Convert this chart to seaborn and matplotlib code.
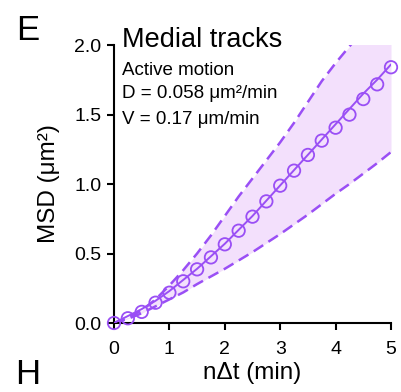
import numpy as np
import pandas as pd
import matplotlib
matplotlib.use("Agg")
import matplotlib.pyplot as plt
import seaborn as sns

# ---- data ----
t = [0, 0.25, 0.5, 0.75, 1.0, 1.25, 1.5, 1.75, 2.0, 2.25, 2.5, 2.75,
     3.0, 3.25, 3.5, 3.75, 4.0, 4.25, 4.5, 4.75, 5.0]
msd = [0, 0.034, 0.08, 0.146, 0.218, 0.30, 0.386, 0.472, 0.566, 0.664, 0.765,
       0.875, 0.988, 1.096, 1.209, 1.312, 1.405, 1.499, 1.611, 1.717, 1.84]
fit = [0, 0.05, 0.10, 0.16, 0.23, 0.31, 0.39, 0.48, 0.57, 0.67, 0.77, 0.88,
       0.99, 1.10, 1.21, 1.32, 1.43, 1.54, 1.65, 1.75, 1.86]
upper = [0, 0.04, 0.09, 0.17, 0.27, 0.38, 0.50, 0.63, 0.77, 0.91, 1.04, 1.17,
         1.30, 1.44, 1.59, 1.74, 1.87, 1.99, 2.11, 2.23, 2.35]
lower = [0, 0.03, 0.07, 0.12, 0.17, 0.22, 0.28, 0.335, 0.39, 0.45, 0.51, 0.575,
         0.64, 0.71, 0.78, 0.855, 0.93, 1.00, 1.075, 1.15, 1.23]
xticks = [0, 1, 2, 3, 4, 5]
yticks = [0.0, 0.5, 1.0, 1.5, 2.0]

df = pd.DataFrame({"t": t, "msd": msd, "fit": fit, "upper": upper, "lower": lower})

sns.set_style("ticks")
plt.rcParams['font.family'] = ['Liberation Sans', 'DejaVu Sans']
plt.rcParams['text.color'] = 'black'
plt.rcParams['axes.labelcolor'] = 'black'

PURPLE = "#9a4ff5"
FILL = "#f3e0fc"

fig = plt.figure(figsize=(4.01, 3.92), dpi=100)
ax = fig.add_axes([114/401, 1-323/392, (391-114)/401, (323-45)/392])

ax.fill_between(df["t"], df["lower"], df["upper"], color=FILL, lw=0, zorder=1)
sns.lineplot(data=df, x="t", y="upper", ax=ax, color=PURPLE, lw=1.8, zorder=2)
ax.lines[-1].set_dashes([4.5, 2.5])
sns.lineplot(data=df, x="t", y="lower", ax=ax, color=PURPLE, lw=1.8, zorder=2)
ax.lines[-1].set_dashes([4.5, 2.5])
sns.lineplot(data=df, x="t", y="fit", ax=ax, color=PURPLE, lw=1.4, zorder=3)
sns.scatterplot(data=df, x="t", y="msd", ax=ax, s=80, facecolor="none",
                edgecolor=PURPLE, linewidth=1.3, zorder=4, clip_on=False)

ax.set_xlim(0, 5)
ax.set_ylim(0, 2.0)
ax.set_xticks(xticks)
ax.set_xticklabels([str(v) for v in xticks])
ax.set_yticks(yticks)
ax.set_yticklabels([f"{v:.1f}" for v in yticks])
for s in ["top", "right"]:
    ax.spines[s].set_visible(False)
for s in ["left", "bottom"]:
    ax.spines[s].set_linewidth(1.5)
    ax.spines[s].set_color("black")
ax.tick_params(direction="out", length=5, width=1.5, labelsize=14,
               colors="black", labelcolor="black")
ax.tick_params(axis="x", pad=8)
ax.tick_params(axis="y", pad=4)
ax.set_xlabel("nΔt (min)", fontsize=17.5, labelpad=3, color="black")
ax.set_ylabel("MSD (μm²)", fontsize=17.5, labelpad=10, color="black")

x0 = 122/401
fig.text(x0, 1-47/392, "Medial tracks", fontsize=19.5, va="baseline", ha="left")
fig.text(x0, 1-75/392, "Active motion", fontsize=13.5, va="baseline", ha="left")
fig.text(x0, 1-98/392, "D = 0.058 μm²/min", fontsize=13.5, va="baseline", ha="left")
fig.text(x0, 1-124/392, "V = 0.17 μm/min", fontsize=13.5, va="baseline", ha="left")
fig.text(16/401, 1-40/392, "E", fontsize=25, va="baseline", ha="left")
fig.text(15/401, 1/392, "H", fontsize=25, va="bottom", ha="left")

fig.savefig("out.png", dpi=100)
